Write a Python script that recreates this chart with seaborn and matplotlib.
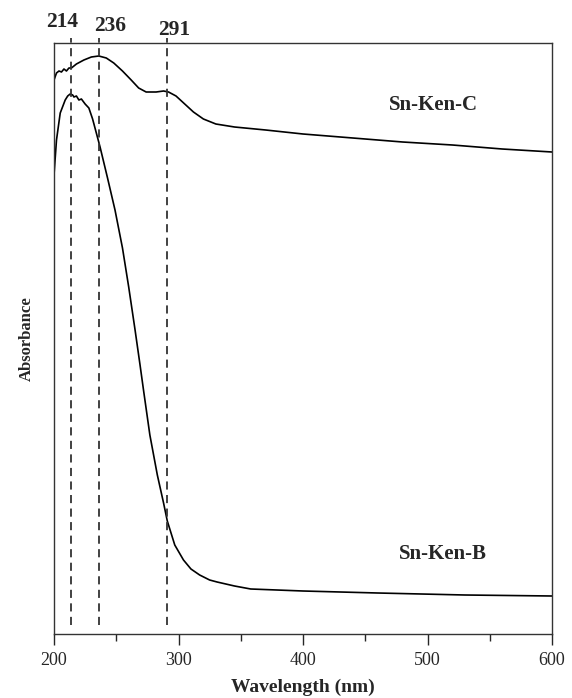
import pandas as pd
import seaborn as sns
import matplotlib.pyplot as plt

# Sn-Ken-B spectrum (wavelength nm, absorbance a.u.)
wl_b = [200, 202, 205, 209, 211, 213, 215, 216, 218, 220, 222, 225, 228, 231, 234,
        237, 243, 249, 255, 260, 265, 269, 272, 277, 283, 288, 291, 297, 304, 310,
        317, 325, 331, 345, 358, 400, 460, 530, 600]
abs_b = [4.59, 4.94, 5.21, 5.34, 5.38, 5.40, 5.39, 5.37, 5.38, 5.34, 5.35, 5.30, 5.26, 5.15, 5.01,
         4.87, 4.56, 4.24, 3.86, 3.47, 3.05, 2.70, 2.43, 1.99, 1.59, 1.31, 1.13, 0.89, 0.74, 0.65,
         0.59, 0.54, 0.52, 0.48, 0.45, 0.43, 0.41, 0.39, 0.38]

# Sn-Ken-C spectrum
wl_c = [200, 202, 204, 206, 208, 210, 212, 214, 218, 224, 230, 236, 242, 248, 255,
        262, 268, 274, 282, 288, 292, 298, 305, 312, 320, 330, 345, 370, 400, 440,
        480, 520, 560, 600]
abs_c = [5.54, 5.61, 5.63, 5.62, 5.65, 5.63, 5.66, 5.66, 5.70, 5.74, 5.77, 5.78, 5.76, 5.71, 5.63,
         5.54, 5.46, 5.42, 5.42, 5.43, 5.42, 5.38, 5.30, 5.22, 5.15, 5.10, 5.07, 5.04, 5.00, 4.96,
         4.92, 4.89, 4.85, 4.82]

# Peak positions marked by dashed lines
peaks = [214, 236, 291]
peak_label_x = [206.4, 245, 296.6]
peak_label_y = [1.036, 1.029, 1.022]

df = pd.concat([
    pd.DataFrame({"wl": wl_b, "abs": abs_b, "sample": "Sn-Ken-B"}),
    pd.DataFrame({"wl": wl_c, "abs": abs_c, "sample": "Sn-Ken-C"}),
])

sns.set_style("ticks")
plt.rcParams['font.family'] = ['Liberation Serif', 'DejaVu Serif']

fig = plt.figure(figsize=(5.72, 6.98), dpi=100)
ax = fig.add_axes([54 / 572, 64 / 698, 498 / 572, 591 / 698])

sns.lineplot(data=df, x="wl", y="abs", units="sample", estimator=None,
             color="black", lw=1.2, sort=False, ax=ax)

for p in peaks:
    ax.axvline(p, ymin=0.015, ymax=1.008, color="#333333", lw=1.3,
               ls=(0, (4.5, 3)), clip_on=False)

for lab, x, y in zip(peaks, peak_label_x, peak_label_y):
    ax.text(x, y, str(lab), transform=ax.get_xaxis_transform(),
            ha="center", va="center", fontsize=15.5, fontweight="bold")

ax.text(505, 5.29, "Sn-Ken-C", ha="center", va="center", fontsize=15, fontweight="bold")
ax.text(512, 0.80, "Sn-Ken-B", ha="center", va="center", fontsize=15, fontweight="bold")

ax.set_xlim(200, 600)
ax.set_ylim(0, 5.91)
ax.set_xticks([200, 300, 400, 500, 600])
ax.set_xticks([250, 350, 450, 550], minor=True)
ax.set_yticks([])
ax.tick_params(axis="x", which="major", direction="out", length=8, width=1, labelsize=13, pad=5)
ax.tick_params(axis="x", which="minor", direction="out", length=5, width=1)
for s in ax.spines.values():
    s.set_visible(True)
    s.set_linewidth(1)
    s.set_color("#333333")

ax.set_xlabel("Wavelength (nm)", fontsize=14, fontweight="bold", labelpad=7)
ax.set_ylabel("Absorbance", fontsize=12, fontweight="bold", labelpad=14)

plt.savefig("out.png", dpi=100)
